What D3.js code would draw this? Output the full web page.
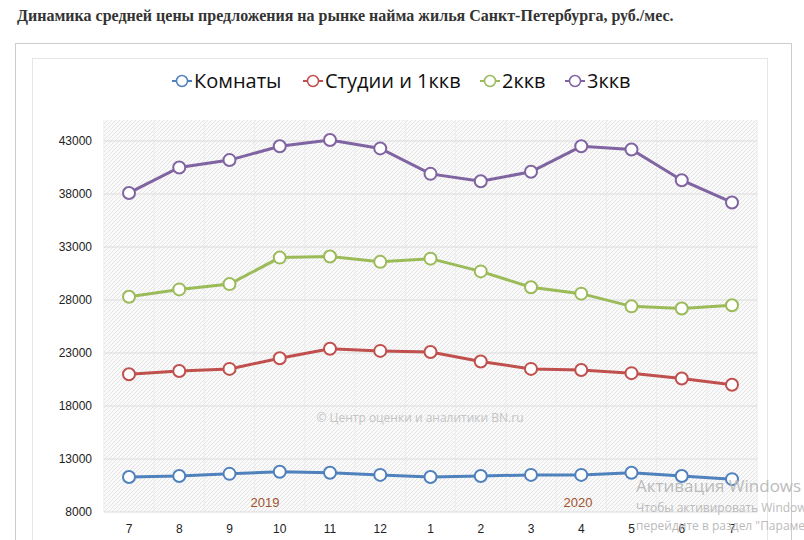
<!DOCTYPE html>
<html><head><meta charset="utf-8">
<script src="https://cdn.jsdelivr.net/npm/d3@7"></script>
<style>body{margin:0;background:#fff;}</style>
</head><body>
<script>
// months along the axis
var months = ["7","8","9","10","11","12","1","2","3","4","5","6","7"];
var rooms = [11300,11400,11600,11800,11700,11500,11300,11400,11500,11500,11700,11400,11100];
var studios = [21000,21300,21500,22500,23400,23200,23100,22200,21500,21400,21100,20600,20000];
var twoRoom = [28300,29000,29500,32000,32100,31600,31900,30700,29200,28600,27400,27200,27500];
var threeRoom = [38100,40500,41200,42500,43100,42300,39900,39200,40100,42500,42200,39300,37200];
var yTicks = [8000,13000,18000,23000,28000,33000,38000,43000];
var names = ["Комнаты","Студии и 1ккв","2ккв","3ккв"];
var colors = ["#4f81bd","#c0504d","#9bbb59","#8064a2"];
var series = [rooms, studios, twoRoom, threeRoom];

var svg = d3.select("body").append("svg").attr("width",804).attr("height",540);

svg.append("text").attr("x",17).attr("y",21)
   .attr("font-family","Liberation Serif").attr("font-weight","bold").attr("font-size",16)
   .attr("fill","#333").text("Динамика средней цены предложения на рынке найма жилья Санкт-Петербурга, руб./мес.");

svg.append("rect").attr("x",15.5).attr("y",43.5).attr("width",776).attr("height",520)
   .attr("fill","#fff").attr("stroke","#ccc");
svg.append("rect").attr("x",32.5).attr("y",58.5).attr("width",735).attr("height",500)
   .attr("fill","#fff").attr("stroke","#e6e6e6");

var defs = svg.append("defs");
var pat = defs.append("pattern").attr("id","hatch").attr("patternUnits","userSpaceOnUse")
   .attr("width",4).attr("height",4);
pat.append("rect").attr("width",4).attr("height",4).attr("fill","#fafafa");
pat.append("path").attr("d","M-1,1 l2,-2 M0,4 l4,-4 M3,5 l2,-2").attr("stroke","#e4e4e4").attr("stroke-width",1);

var x = d3.scalePoint().domain(d3.range(months.length)).range([129,732]);
var y = d3.scaleLinear().domain([8000,43000]).range([512,141]);
var step = x.step();

svg.append("rect").attr("x",x(0)-step/2).attr("y",120).attr("width",step*13).attr("height",512-120)
   .attr("fill","url(#hatch)");

// vertical grid
svg.append("g").selectAll("line").data(d3.range(months.length+1)).enter().append("line")
   .attr("x1",d=>x(0)-step/2+d*step).attr("x2",d=>x(0)-step/2+d*step)
   .attr("y1",120).attr("y2",512).attr("stroke","#ececec");
// horizontal grid
svg.append("g").selectAll("line").data(yTicks).enter().append("line")
   .attr("x1",x(0)-step/2).attr("x2",x(12)+step/2)
   .attr("y1",d=>y(d)).attr("y2",d=>y(d)).attr("stroke","#dcdcdc");

svg.append("g").selectAll("text").data(yTicks).enter().append("text")
   .attr("x",92).attr("y",d=>y(d)+4).attr("text-anchor","end")
   .attr("font-family","Liberation Sans Narrow, Liberation Sans").attr("font-size",12).attr("fill","#222")
   .text(d=>d);
svg.append("g").selectAll("text").data(months).enter().append("text")
   .attr("x",(d,i)=>x(i)).attr("y",533).attr("text-anchor","middle")
   .attr("font-family","Liberation Sans").attr("font-size",12).attr("fill","#222")
   .text(d=>d);

svg.append("text").attr("x",265).attr("y",507).attr("text-anchor","middle")
   .attr("font-family","Liberation Sans Narrow, Liberation Sans").attr("font-size",13).attr("fill","#a0522d").text("2019");
svg.append("text").attr("x",578).attr("y",507).attr("text-anchor","middle")
   .attr("font-family","Liberation Sans Narrow, Liberation Sans").attr("font-size",13).attr("fill","#a0522d").text("2020");
svg.append("text").attr("x",420).attr("y",422).attr("text-anchor","middle")
   .attr("font-family","Open Sans").attr("font-size",12).attr("fill","#c4c4c4").text("© Центр оценки и аналитики BN.ru");

var line = d3.line().x((d,i)=>x(i)).y(d=>y(d));
series.forEach(function(s,k){
  svg.append("path").datum(s).attr("d",line).attr("fill","none")
     .attr("stroke",colors[k]).attr("stroke-width",3);
  svg.append("g").selectAll("circle").data(s).enter().append("circle")
     .attr("cx",(d,i)=>x(i)).attr("cy",d=>y(d)).attr("r",6)
     .attr("fill","#fff").attr("stroke",colors[k]).attr("stroke-width",2);
});

// legend
var legX = [172, 303, 480, 565];
names.forEach(function(n,k){
  var g = svg.append("g").attr("transform","translate("+legX[k]+",81)");
  g.append("line").attr("x1",0).attr("x2",20).attr("stroke",colors[k]).attr("stroke-width",2);
  g.append("circle").attr("cx",10).attr("r",5.5).attr("fill","#fff").attr("stroke",colors[k]).attr("stroke-width",1.5);
  g.append("text").attr("x",22).attr("y",7).attr("font-family","Open Sans").attr("font-size",20)
   .attr("fill","#111").text(n);
});

// OS overlay text
svg.append("text").attr("x",636).attr("y",492).attr("font-family","Open Sans").attr("font-size",17)
   .attr("fill","#bbb").text("Активация Windows");
svg.append("text").attr("x",636).attr("y",512).attr("font-family","Open Sans").attr("font-size",12)
   .attr("fill","#bbb").text("Чтобы активировать Windows");
svg.append("text").attr("x",636).attr("y",530).attr("font-family","Open Sans").attr("font-size",12)
   .attr("fill","#bbb").text("перейдите в раздел \"Параметры\"");
</script>
</body></html>
